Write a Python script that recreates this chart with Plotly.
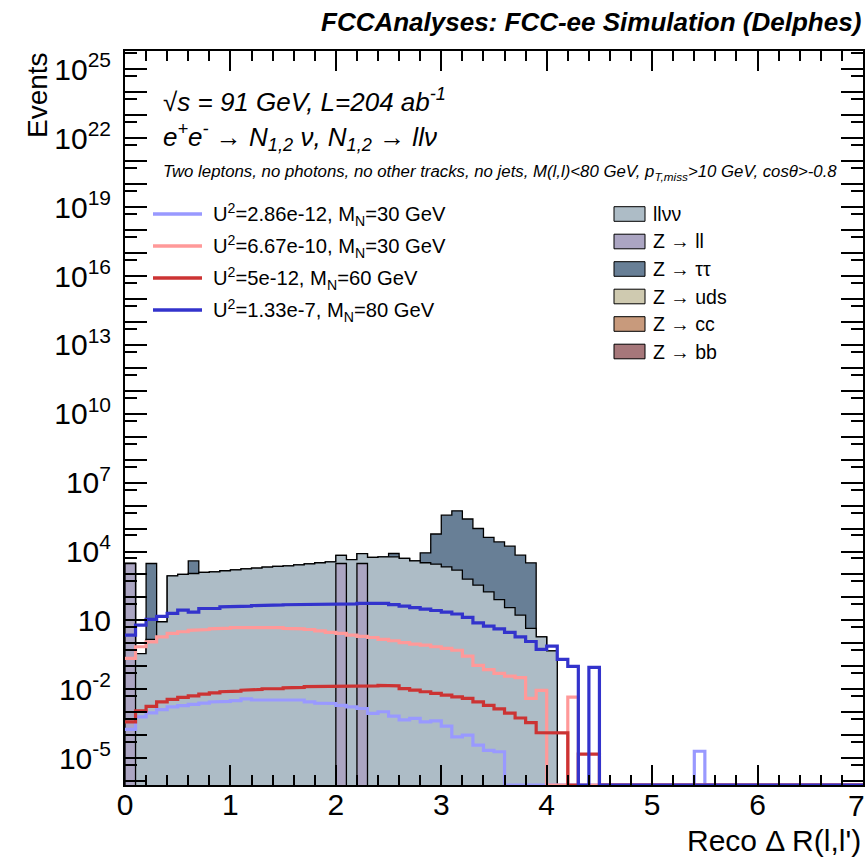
import numpy as np
import plotly.graph_objects as go

# ---------------- data ----------------
bin_width = 0.1
n_bins = 70

llvv = [0, 0.36, 1.5, 8.7, 870, 1000, 1100, 1230, 1290, 1450,
        1580, 1740, 1900, 2090, 2240, 2370, 2630, 2880, 3240, 3550,
        3850, 4470, 5100, 5500, 5890, 5890, 5010, 3890, 3240, 2820,
        2140, 1550, 630, 340, 174, 81, 36, 17, 4.5, 1.9,
        0.47] + [0] * 29

z_ll = [3000] + [0] * 19 + [3000, 0, 3000] + [0] * 47

z_tautau = ([0, 0, 3000, 0, 0, 0, 2800, 0, 0, 0] + [0] * 10 +
            [0, 0, 0, 0, 0, 2300, 0, 0, 5500, 5.5e4,
             3.8e5, 5.9e5, 2.6e5, 1.0e5, 4.1e4, 2.6e4, 1.7e4, 6.9e3, 3.2e3, 0] +
            [0] * 30)

z_uds = [0] * 70
z_cc = [0] * 70
z_bb = [0] * 70

sig_lightblue = [1.8e-4, 6.3e-4, 9.3e-4, 1.3e-3, 1.7e-3, 1.95e-3, 2.2e-3, 2.5e-3, 2.8e-3, 2.95e-3,
                 3.2e-3, 3.8e-3, 3.4e-3, 3.4e-3, 3.6e-3, 3.6e-3, 3.4e-3, 2.8e-3, 2.5e-3, 2.4e-3,
                 2.0e-3, 1.7e-3, 1.45e-3, 8.9e-4, 1.05e-3, 6.8e-4, 4.6e-4, 5.4e-4, 3.8e-4, 4.2e-4,
                 2.5e-4, 8.5e-5, 1.0e-4, 3.7e-5, 2.2e-5, 1.9e-5, 0, 0, 0, 0] + \
                [0] * 14 + [2.0e-5] + [0] * 15

sig_pink = [0.22, 0.71, 1.17, 1.9, 2.7, 3.2, 3.7, 4.0, 4.3, 4.6,
            4.9, 4.9, 5.1, 5.0, 4.8, 4.5, 4.3, 4.0, 3.5, 3.0,
            2.7, 2.3, 2.0, 1.8, 1.5, 1.3, 1.07, 0.93, 0.83, 0.71,
            0.60, 0.50, 0.28, 0.11, 0.072, 0.049, 0.037, 0.032, 0.004, 0.009,
            0, 0, 0.0045] + [0] * 27

sig_red = [3.8e-4, 1.15e-3, 1.8e-3, 2.8e-3, 3.6e-3, 4.4e-3, 5.1e-3, 6.2e-3, 6.9e-3, 7.8e-3,
           8.3e-3, 9.1e-3, 9.8e-3, 1.05e-2, 1.07e-2, 1.15e-2, 1.2e-2, 1.3e-2, 1.3e-2, 1.3e-2,
           1.3e-2, 1.3e-2, 1.35e-2, 1.4e-2, 1.48e-2, 1.4e-2, 1.07e-2, 9.1e-3, 7.8e-3, 6.6e-3,
           5.5e-3, 4.7e-3, 4.0e-3, 2.8e-3, 2.0e-3, 1.4e-3, 9.1e-4, 5.6e-4, 3.5e-4, 1.3e-4,
           1.26e-4, 1.26e-4, 0, 1.5e-5, 1.5e-5] + [0] * 25

sig_blue = [2.3, 6.2, 11, 15, 20, 28, 23, 33, 33, 39,
            42, 42, 44, 46, 47, 48, 49, 49, 51, 51,
            52, 52, 55, 55, 55, 49, 42, 36, 31, 27,
            23, 19, 13.5, 7.8, 5.6, 4.3, 3.0, 1.9, 1.2, 0.55,
            0.76, 0.20, 0.10, 0, 0.09] + [0] * 25

bkg_names = ["llνν", "Z → ll", "Z → ττ", "Z → uds", "Z → cc", "Z → bb"]
bkg_colors = ["#adbcc6", "#aba5c2", "#687f96", "#cfcab0", "#c89a7c", "#a6777a"]

sig_labels = ["U<sup>2</sup>=2.86e-12, M<sub>N</sub>=30 GeV",
              "U<sup>2</sup>=6.67e-10, M<sub>N</sub>=30 GeV",
              "U<sup>2</sup>=5e-12, M<sub>N</sub>=60 GeV",
              "U<sup>2</sup>=1.33e-7, M<sub>N</sub>=80 GeV"]
sig_colors = ["#9999ff", "#ff9999", "#cc3333", "#3333cc"]

x_ticks = [0, 1, 2, 3, 4, 5, 6, 7]
y_log_min, y_log_max = -6.17, 25.80
x_min, x_max = 0, 7

# ---------------- geometry helpers ----------------
W, H = 868, 860
ML, MR, MT, MB = 125, 5, 51, 75
PW, PH = W - ML - MR, H - MT - MB


def xp(px):
    return (px - ML) / PW


def yp(py):
    return (H - MB - py) / PH


edges = np.arange(n_bins + 1) * bin_width
floor_draw = 10 ** y_log_min          # zero bins drawn on the frame bottom (ROOT style)
floor_fill = 10 ** (y_log_min - 2)    # below the frame, for filled polygons


def step_polygon(vals):
    v = np.asarray(vals, dtype=float)
    v = np.where(v > 0, v, floor_fill)
    xs = [edges[0]]
    ys = [floor_fill]
    for i in range(n_bins):
        xs += [edges[i], edges[i + 1]]
        ys += [v[i], v[i]]
    xs += [edges[-1]]
    ys += [floor_fill]
    return xs, ys


def step_line(vals):
    v = np.asarray(vals, dtype=float)
    v = np.where(v > 0, v, floor_draw)
    xs, ys = [], []
    for i in range(n_bins):
        xs += [edges[i], edges[i + 1]]
        ys += [v[i], v[i]]
    return xs, ys


fig = go.Figure()

# stacked backgrounds: bottom layer Z->ll, then llvv, then Z->tautau (ROOT draws sums top-down)
layers = [z_ll, llvv, z_tautau, z_uds, z_cc, z_bb]
layer_colors = [bkg_colors[1], bkg_colors[0], bkg_colors[2], bkg_colors[3], bkg_colors[4], bkg_colors[5]]
cums = np.cumsum(np.array(layers, dtype=float), axis=0)
for k in range(len(layers) - 1, -1, -1):
    if np.all(np.asarray(layers[k]) == 0):
        continue
    xs, ys = step_polygon(cums[k])
    fig.add_trace(go.Scatter(x=xs, y=ys, mode="lines", fill="toself",
                             fillcolor=layer_colors[k],
                             line=dict(color="black", width=1.3),
                             hoverinfo="skip", showlegend=False))

for vals, col in zip([sig_lightblue, sig_pink, sig_red, sig_blue], sig_colors):
    xs, ys = step_line(vals)
    fig.add_trace(go.Scatter(x=xs, y=ys, mode="lines",
                             line=dict(color=col, width=3.2),
                             hoverinfo="skip", showlegend=False))

# ---------------- axes ----------------
FONT = "Liberation Sans, Arial, Helvetica, sans-serif"
dec = list(range(-7, 27))
ytickvals = [10.0 ** d for d in dec]
yticktext = []
for d in dec:
    if (d - 1) % 3 == 0:
        yticktext.append("10" if d == 1 else "10<sup>%d</sup>" % d)
    else:
        yticktext.append("")
yminor = [5 * 10.0 ** (d - 1) for d in dec]

# last x label is drawn shifted inwards (as ROOT does at the frame edge)
xticktext = [str(t) for t in x_ticks[:-1]] + [""]

fig.update_xaxes(range=[x_min, x_max], showline=True, linecolor="black", linewidth=2,
                 mirror="ticks", ticks="inside", ticklen=20, tickwidth=1.5, tickcolor="black",
                 tickvals=x_ticks, ticktext=xticktext,
                 minor=dict(dtick=0.2, ticks="inside", ticklen=10, tickwidth=1.5, tickcolor="black"),
                 showgrid=False, zeroline=False, ticklabeloverflow="allow", automargin=False,
                 tickfont=dict(family=FONT, size=30, color="black"), ticklabelstandoff=-8)
fig.update_yaxes(type="log", range=[y_log_min, y_log_max], showline=True, linecolor="black",
                 linewidth=2, mirror="ticks", ticks="inside", ticklen=22, tickwidth=1.5,
                 tickcolor="black", tickvals=ytickvals, ticktext=yticktext,
                 minor=dict(tickvals=yminor, ticks="inside", ticklen=12, tickwidth=1.5,
                            tickcolor="black"),
                 showgrid=False, zeroline=False, automargin=False,
                 tickfont=dict(family=FONT, size=30, color="black"), ticklabelstandoff=6)

ann = []
shapes = []


def text(x, y, s, size, xanchor="left", yanchor="middle", angle=0):
    ann.append(dict(x=xp(x), y=yp(y), xref="paper", yref="paper", text=s, showarrow=False,
                    xanchor=xanchor, yanchor=yanchor, textangle=angle,
                    font=dict(family=FONT, size=size, color="black")))


ann.append(dict(x=x_ticks[-1], xref="x", y=yp(805), yref="paper", text=str(x_ticks[-1]),
                showarrow=False, xanchor="right", yanchor="middle", xshift=4,
                font=dict(family=FONT, size=30, color="black")))

text(863, 22, "<b><i>FCCAnalyses: FCC-ee Simulation (Delphes)</i></b>", 26, xanchor="right")
text(863, 840, "Reco Δ R(l,l')", 30, xanchor="right")
text(38, 50, "Events", 28, xanchor="center", yanchor="top", angle=-90)
text(161, 100, "<i>√s = 91 GeV, L=204 ab<sup>-1</sup></i>", 26)
text(161, 137, "<i>e<sup>+</sup>e<sup>-</sup> → N<sub>1,2</sub> ν, N<sub>1,2</sub> → llν</i>", 26)
text(161, 172, "<i>Two leptons, no photons, no other tracks, no jets, M(l,l)&lt;80 GeV, "
               "p<sub>T,miss</sub>&gt;10 GeV, cosθ&gt;-0.8</i>", 16.8)

# signal legend
sig_rows = [214, 246, 278, 310]
for lab, col, ry in zip(sig_labels, sig_colors, sig_rows):
    shapes.append(dict(type="line", xref="paper", yref="paper", x0=xp(153), x1=xp(202),
                       y0=yp(ry), y1=yp(ry), line=dict(color=col, width=3.5)))
    text(211, ry, lab, 20.2)

# background legend
bkg_rows = [214, 241.5, 269, 296.5, 324, 351.5]
for lab, col, ry in zip(bkg_names, bkg_colors, bkg_rows):
    shapes.append(dict(type="rect", xref="paper", yref="paper", x0=xp(614), x1=xp(645),
                       y0=yp(ry - 7.3), y1=yp(ry + 7.3), fillcolor=col,
                       line=dict(color="black", width=1)))
    text(651, ry, lab, 19.5)

fig.update_layout(width=W, height=H, margin=dict(l=ML, r=MR, t=MT, b=MB, autoexpand=False),
                  paper_bgcolor="white", plot_bgcolor="white",
                  annotations=ann, shapes=shapes, showlegend=False)

fig.write_html("out.html")
